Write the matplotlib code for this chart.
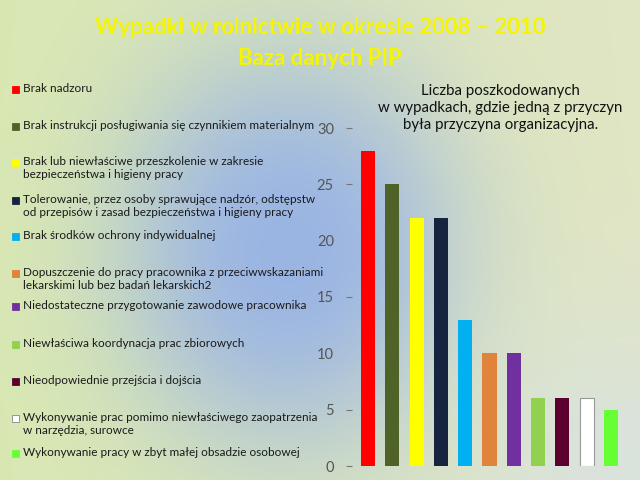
import numpy as np
import matplotlib
matplotlib.use("Agg")
import matplotlib.pyplot as plt
from matplotlib.patches import Rectangle

plt.rcParams['font.family'] = ['Lato', 'DejaVu Sans']

# Data
causes = [
    "Brak nadzoru",
    "Brak instrukcji posługiwania się czynnikiem materialnym",
    "Brak lub niewłaściwe przeszkolenie w zakresie\nbezpieczeństwa i higieny pracy",
    "Tolerowanie, przez osoby sprawujące nadzór, odstępstw\nod przepisów i zasad bezpieczeństwa i higieny pracy",
    "Brak środków ochrony indywidualnej",
    "Dopuszczenie do pracy pracownika z przeciwwskazaniami\nlekarskimi lub bez badań lekarskich2",
    "Niedostateczne przygotowanie zawodowe pracownika",
    "Niewłaściwa koordynacja prac zbiorowych",
    "Nieodpowiednie przejścia i dojścia",
    "Wykonywanie prac pomimo niewłaściwego zaopatrzenia\nw narzędzia, surowce",
    "Wykonywanie pracy w zbyt małej obsadzie osobowej",
]
victims = [28, 25, 22, 22, 13, 10, 10, 6, 6, 6, 5]
colors = ["#ff0000", "#4f6228", "#ffff00", "#17243f", "#00b0f0", "#e0843c",
          "#7030a0", "#92d050", "#5c0030", "#ffffff", "#66ff33"]
yticks = [0, 5, 10, 15, 20, 25, 30]

fig = plt.figure(figsize=(6.4, 4.8), dpi=100)

# Background gradient
bg = fig.add_axes([0, 0, 1, 1])
h, w = 240, 320
yy, xx = np.mgrid[0:h, 0:w]
xx = xx / w
yy = yy / h
left = np.array([0.85, 0.91, 0.70])
right = np.array([0.88, 0.90, 0.77])
blue = np.array([0.58, 0.69, 0.91])
edge = np.array([0.84, 0.88, 0.93])
base = left * (1 - xx[..., None]) + right * xx[..., None]
d = ((xx - 0.45) / 0.27) ** 2 + ((yy - 0.52) / 0.42) ** 2
wblue = np.exp(-d ** 1.3)[..., None] * 0.9
img = base * (1 - wblue) + blue * wblue
br = np.exp(-(((xx - 0.97) / 0.25) ** 2 + ((yy - 0.97) / 0.3) ** 2))[..., None] * 0.6
img = img * (1 - br) + edge * br
bg.imshow(np.clip(img, 0, 1), aspect='auto', extent=[0, 1, 0, 1], origin='upper')
bg.axis('off')

# Titles
fig.text(0.5, 0.942, "Wypadki w rolnictwie w okresie 2008 – 2010", color="#f5f500",
         fontsize=16, fontweight='bold', ha='center', va='center')
fig.text(0.5, 0.878, "Baza danych PIP", color="#f5f500",
         fontsize=16, fontweight='bold', ha='center', va='center')
fig.text(0.782, 0.775,
         "Liczba poszkodowanych\nw wypadkach, gdzie jedną z przyczyn\nbyła przyczyna organizacyjna.",
         fontsize=10.8, ha='center', va='center', linespacing=1.25, color="#111111")

# Bars
ax = fig.add_axes([352 / 640, 14 / 480, 273 / 640, 338 / 480])
ax.patch.set_alpha(0)
x = np.arange(len(victims))
ax.bar(x, victims, width=0.58, color=colors, edgecolor=["none"] * 9 + ["#999999", "none"],
       linewidth=0.8)
ax.set_xlim(-0.66, 10.58)
ax.set_ylim(0, 30)
ax.set_yticks(yticks)
ax.set_xticks([])
for s in ax.spines.values():
    s.set_visible(False)
ax.tick_params(axis='y', direction='out', length=4, width=0.8, color="#777777",
               labelcolor="#555555", labelsize=10.5, pad=9)
for t, v in zip(ax.yaxis.get_major_ticks(), yticks):
    if v in (10, 20):
        t.tick1line.set_visible(False)

# Legend on the left
legend_y = [89, 126, 162, 200, 236, 273, 306, 344, 381, 418, 453]
for label, col, ypix in zip(causes, colors, legend_y):
    yf = 1 - ypix / 480
    fig.patches.append(Rectangle((12 / 640, yf - 3.5 / 480), 7 / 640, 7 / 480,
                                 transform=fig.transFigure, facecolor=col,
                                 edgecolor="#888888" if col == "#ffffff" else col,
                                 linewidth=0.6))
    fig.text(23 / 640, yf + 6 / 480, label, fontsize=8.5, va='top', ha='left',
             color="#1a1a1a", linespacing=1.25)

fig.savefig("out.png", dpi=100)
